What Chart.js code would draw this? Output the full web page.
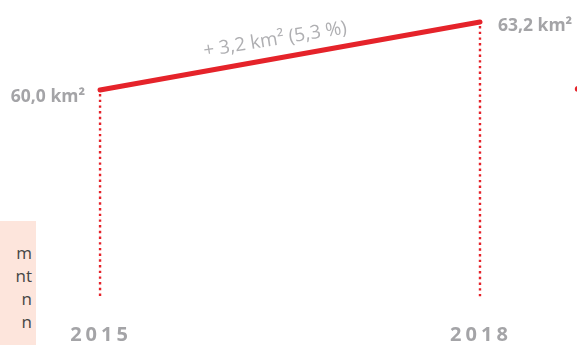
<!DOCTYPE html>
<html>
<head>
<meta charset="utf-8">
<script src="https://cdn.jsdelivr.net/npm/chart.js@4/dist/chart.umd.min.js"></script>
<style>
  html, body { margin: 0; padding: 0; background: #ffffff; }
  #wrap { position: relative; width: 577px; height: 345px; overflow: hidden; }
  #c { position: absolute; left: 0; top: 0; }
  #note {
    position: absolute; left: 0; top: 221px; width: 36px; height: 124px;
    background: #fde5dc; overflow: hidden;
    font-family: "Open Sans", sans-serif; font-size: 17px; line-height: 23px;
    color: #454545; text-align: right; padding-top: 20px; box-sizing: border-box;
    padding-right: 4px;
  }
</style>
</head>
<body>
<div id="wrap">
  <canvas id="c" width="577" height="345"></canvas>
  <div id="note">m<br>nt<br>n<br>n</div>
</div>
<script>
// ---- data ----
const years = [2015, 2018];
const areaValues = [60.0, 63.2];
const valueLabels = ["60,0 km²", "63,2 km²"];
const yearLabels = ["2015", "2018"];
const changeLabel = "+ 3,2 km² (5,3 %)";
// start of the neighbouring panel's line, just visible at the right edge
const nextPanelYears = [2018.772];
const nextPanelValues = [60.05];

const RED = "#e5232a";
const GREY = "#a4a4a7";

const overlay = {
  id: "overlay",
  afterDatasetsDraw(chart) {
    const ctx = chart.ctx;
    const meta = chart.getDatasetMeta(0);
    const bottom = chart.chartArea.bottom;
    ctx.save();
    // dotted drop lines
    ctx.strokeStyle = RED;
    ctx.lineWidth = 2.4;
    ctx.setLineDash([2.4, 3.3]);
    meta.data.forEach(p => {
      ctx.beginPath();
      ctx.moveTo(p.x, p.y + 4);
      ctx.lineTo(p.x, bottom);
      ctx.stroke();
    });
    ctx.setLineDash([]);
    // value labels
    ctx.fillStyle = GREY;
    ctx.font = "bold 17.5px 'Open Sans', sans-serif";
    ctx.textBaseline = "middle";
    const p0 = meta.data[0], p1 = meta.data[1];
    ctx.textAlign = "right";
    ctx.fillText(valueLabels[0], p0.x - 15, p0.y + 7);
    ctx.textAlign = "left";
    ctx.fillText(valueLabels[1], p1.x + 18, p1.y + 4);
    // year labels
    ctx.font = "bold 20px 'Open Sans', sans-serif";
    ctx.textAlign = "center";
    ctx.textBaseline = "alphabetic";
    try { ctx.letterSpacing = "4px"; } catch (e) {}
    meta.data.forEach((p, i) => {
      ctx.fillText(yearLabels[i], p.x + 1, bottom + 43);
    });
    try { ctx.letterSpacing = "0px"; } catch (e) {}
    // change annotation, along the line
    const angle = Math.atan2(p1.y - p0.y, p1.x - p0.x);
    ctx.translate((p0.x + p1.x) / 2 - 14, (p0.y + p1.y) / 2 - 11);
    ctx.rotate(angle + 0.015);
    ctx.fillStyle = "#afafb2";
    ctx.font = "19px 'Open Sans', sans-serif";
    ctx.textAlign = "center";
    ctx.textBaseline = "alphabetic";
    ctx.fillText(changeLabel, 0, 0);
    ctx.restore();
  }
};

new Chart(document.getElementById("c"), {
  type: "line",
  data: {
    datasets: [
      {
        data: years.map((y, i) => ({ x: y, y: areaValues[i] })),
        borderColor: RED,
        borderWidth: 5,
        borderCapStyle: "round",
        pointRadius: 0,
        tension: 0,
        clip: false
      },
      {
        data: nextPanelYears.map((y, i) => ({ x: y, y: nextPanelValues[i] })),
        borderColor: RED,
        backgroundColor: RED,
        pointRadius: 3,
        pointBorderWidth: 0,
        showLine: false,
        clip: false
      }
    ]
  },
  options: {
    responsive: false,
    animation: false,
    devicePixelRatio: 1,
    layout: { autoPadding: false, padding: { left: 0, right: 0, top: 0, bottom: 47 } },
    plugins: { legend: { display: false }, tooltip: { enabled: false } },
    scales: {
      x: { type: "linear", min: 2014.21, max: 2018.766, display: false },
      y: { min: 50.21, max: 64.235, display: false }
    }
  },
  plugins: [overlay]
});
</script>
</body>
</html>
